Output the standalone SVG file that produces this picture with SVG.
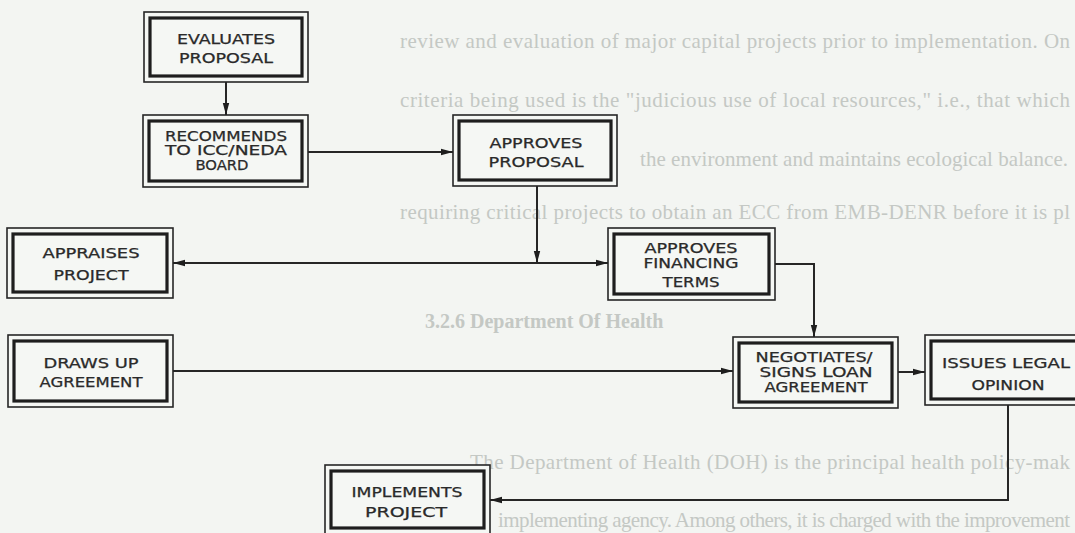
<svg xmlns="http://www.w3.org/2000/svg" width="1075" height="533" viewBox="0 0 1075 533">
  <defs>
    <style>
      .page { fill: #f3f5f2; }
      .para { font-family: "Liberation Serif", "Times New Roman", serif; font-size: 21px; fill: #c4c8c4; }
      .head { font-family: "Liberation Serif", "Times New Roman", serif; font-size: 20px; font-weight: bold; fill: #c4c8c4; }
      .outer { fill: #f5f7f4; stroke: #262626; stroke-width: 1.6; }
      .inner { fill: none; stroke: #1e1e1e; stroke-width: 3.2; }
      .lbl { font-family: "DejaVu Sans Condensed", "DejaVu Sans", sans-serif; font-size: 14.5px; fill: #2a2a2a; text-anchor: middle; stroke: #2a2a2a; stroke-width: 0.25; }
      .wire { fill: none; stroke: #262626; stroke-width: 2; }
    </style>
    <marker id="arrow" viewBox="0 0 12 8" refX="12" refY="4" markerWidth="12" markerHeight="8" markerUnits="userSpaceOnUse" orient="auto-start-reverse">
      <path d="M0,0.8 L12,4 L0,7.2 Z" fill="#1e1e1e"/>
    </marker>
  </defs>

  <!-- page background -->
  <rect class="page" x="0" y="0" width="1075" height="533"/>

  <!-- printed page text beneath the chart -->
  <g id="page-text">
    <text class="para" x="400" y="48" textLength="670" lengthAdjust="spacing">review and evaluation of major capital projects prior to implementation.  On</text>
    <text class="para" x="400" y="107" textLength="670" lengthAdjust="spacing">criteria being used is the "judicious use of local resources," i.e., that which</text>
    <text class="para" x="640" y="166" textLength="428" lengthAdjust="spacing">the  environment  and  maintains  ecological  balance.</text>
    <text class="para" x="400" y="219" textLength="670" lengthAdjust="spacing">requiring critical projects to obtain an ECC from EMB-DENR before it is pl</text>
    <text class="head" x="425" y="328">3.2.6  Department Of Health</text>
    <text class="para" x="470" y="469" textLength="600" lengthAdjust="spacing">The  Department  of  Health  (DOH)  is  the  principal  health  policy-mak</text>
    <text class="para" x="498" y="527" textLength="572" lengthAdjust="spacing">implementing  agency.   Among  others,  it  is  charged  with  the  improvement</text>
  </g>

  <!-- connectors -->
  <g id="connectors">
    <path class="wire" d="M226,82 V115" marker-end="url(#arrow)"/>
    <path class="wire" d="M308,152 H453" marker-end="url(#arrow)"/>
    <path class="wire" d="M537,186 V263" marker-end="url(#arrow)"/>
    <path class="wire" d="M173,263 H608" marker-start="url(#arrow)" marker-end="url(#arrow)"/>
    <path class="wire" d="M775,264 H814 V337" marker-end="url(#arrow)"/>
    <path class="wire" d="M173,371 H733" marker-end="url(#arrow)"/>
    <path class="wire" d="M898,372 H925" marker-end="url(#arrow)"/>
    <path class="wire" d="M1008,405 V500 H490" marker-end="url(#arrow)"/>
  </g>

  <!-- process boxes: thin outer frame with heavy inner frame -->
  <g id="evaluates-proposal">
    <rect class="outer" x="144" y="12" width="164" height="70"/>
    <rect class="inner" x="150" y="18" width="152" height="58"/>
    <text class="lbl" x="226" y="44" textLength="98" lengthAdjust="spacingAndGlyphs">EVALUATES</text>
    <text class="lbl" x="226" y="63" textLength="94" lengthAdjust="spacingAndGlyphs">PROPOSAL</text>
  </g>

  <g id="recommends-to-board">
    <rect class="outer" x="143" y="115" width="165" height="72"/>
    <rect class="inner" x="149" y="121" width="153" height="60"/>
    <text class="lbl" x="226" y="141" textLength="122" lengthAdjust="spacingAndGlyphs">RECOMMENDS</text>
    <text class="lbl" x="226" y="155" textLength="122" lengthAdjust="spacingAndGlyphs">TO ICC/NEDA</text>
    <text class="lbl" x="222" y="170" textLength="53" lengthAdjust="spacingAndGlyphs">BOARD</text>
  </g>

  <g id="approves-proposal">
    <rect class="outer" x="453" y="115" width="164" height="71"/>
    <rect class="inner" x="459" y="121" width="152" height="59"/>
    <text class="lbl" x="536" y="148" textLength="93" lengthAdjust="spacingAndGlyphs">APPROVES</text>
    <text class="lbl" x="536" y="167" textLength="95" lengthAdjust="spacingAndGlyphs">PROPOSAL</text>
  </g>

  <g id="appraises-project">
    <rect class="outer" x="7" y="228" width="166" height="70"/>
    <rect class="inner" x="13" y="234" width="154" height="58"/>
    <text class="lbl" x="91" y="258" textLength="97" lengthAdjust="spacingAndGlyphs">APPRAISES</text>
    <text class="lbl" x="91" y="280" textLength="75" lengthAdjust="spacingAndGlyphs">PROJECT</text>
  </g>

  <g id="approves-financing-terms">
    <rect class="outer" x="608" y="228" width="167" height="72"/>
    <rect class="inner" x="614" y="234" width="155" height="60"/>
    <text class="lbl" x="691" y="253" textLength="93" lengthAdjust="spacingAndGlyphs">APPROVES</text>
    <text class="lbl" x="691" y="268" textLength="95" lengthAdjust="spacingAndGlyphs">FINANCING</text>
    <text class="lbl" x="691" y="287" textLength="57" lengthAdjust="spacingAndGlyphs">TERMS</text>
  </g>

  <g id="draws-up-agreement">
    <rect class="outer" x="8" y="335" width="165" height="72"/>
    <rect class="inner" x="14" y="341" width="153" height="60"/>
    <text class="lbl" x="91" y="368" textLength="95" lengthAdjust="spacingAndGlyphs">DRAWS  UP</text>
    <text class="lbl" x="91" y="387" textLength="103" lengthAdjust="spacingAndGlyphs">AGREEMENT</text>
  </g>

  <g id="negotiates-signs-loan">
    <rect class="outer" x="733" y="337" width="165" height="71"/>
    <rect class="inner" x="739" y="343" width="153" height="59"/>
    <text class="lbl" x="814" y="362" textLength="117" lengthAdjust="spacingAndGlyphs">NEGOTIATES/</text>
    <text class="lbl" x="816" y="377" textLength="113" lengthAdjust="spacingAndGlyphs">SIGNS  LOAN</text>
    <text class="lbl" x="816" y="392" textLength="103" lengthAdjust="spacingAndGlyphs">AGREEMENT</text>
  </g>

  <g id="issues-legal-opinion">
    <rect class="outer" x="925" y="335" width="160" height="70"/>
    <rect class="inner" x="931" y="341" width="148" height="58"/>
    <text class="lbl" x="1006" y="368" textLength="128" lengthAdjust="spacingAndGlyphs">ISSUES  LEGAL</text>
    <text class="lbl" x="1008" y="390" textLength="73" lengthAdjust="spacingAndGlyphs">OPINION</text>
  </g>

  <g id="implements-project">
    <rect class="outer" x="325" y="465" width="165" height="69"/>
    <rect class="inner" x="331" y="471" width="153" height="57"/>
    <text class="lbl" x="407" y="497" textLength="111" lengthAdjust="spacingAndGlyphs">IMPLEMENTS</text>
    <text class="lbl" x="406" y="517" textLength="82" lengthAdjust="spacingAndGlyphs">PROJECT</text>
  </g>
</svg>
